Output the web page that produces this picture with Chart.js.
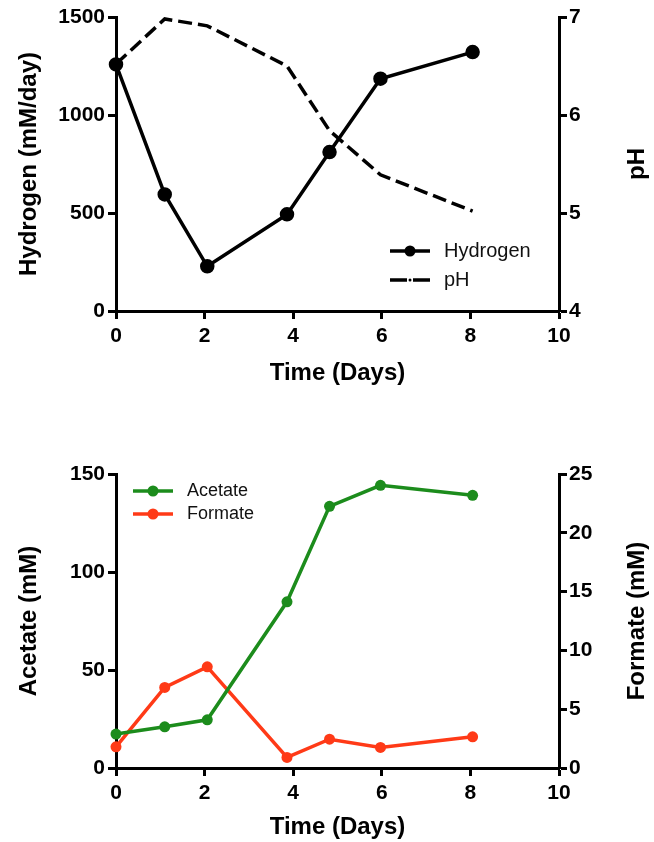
<!DOCTYPE html>
<html>
<head>
<meta charset="utf-8">
<script src="https://cdn.jsdelivr.net/npm/chart.js@4/dist/chart.umd.min.js"></script>
<style>
    html, body { margin: 0; padding: 0; background: #fff; }
    .box { position: relative; width: 654px; }
    #boxTop { height: 400px; }
    #boxBottom { height: 442px; }
</style>
</head>
<body>
<div class="box" id="boxTop"><canvas id="chartHydrogen"></canvas></div>
<div class="box" id="boxBottom"><canvas id="chartAcids"></canvas></div>
<script>
// sampling days (shared by both panels)
const days = [0, 1.1, 2.06, 3.86, 4.82, 5.97, 8.05];
const hydrogen = [1258, 595, 228, 493, 811, 1185, 1321];
const pH = [6.52, 6.98, 6.91, 6.5, 5.84, 5.39, 5.02];
const acetate = [17.3, 21, 24.6, 84.8, 133.5, 144.2, 139.1];
const formate = [1.8, 6.85, 8.6, 0.9, 2.45, 1.75, 2.65];

const FONT = "'Liberation Sans', Arial, sans-serif";
const GREEN = "#1c8c1c";
const RED = "#ff3a17";

function pts(ys) {
    return days.map(function (d, i) { return { x: d, y: ys[i] }; });
}

// right axis title (reads bottom-to-top like the left one) + legend
const panelText = {
    id: "panelText",
    afterDraw(chart, args, opts) {
        const ctx = chart.ctx;
        const area = chart.chartArea;
        ctx.save();
        ctx.fillStyle = "#000";
        ctx.font = "bold 24px " + FONT;
        ctx.textAlign = "center";
        ctx.textBaseline = "middle";
        ctx.translate(opts.titleX, (area.top + area.bottom) / 2);
        ctx.rotate(-Math.PI / 2);
        ctx.fillText(opts.rightTitle, 0, 0);
        ctx.restore();

        ctx.save();
        ctx.font = opts.legendFont + "px " + FONT;
        ctx.textBaseline = "middle";
        chart.data.datasets.forEach(function (ds, i) {
            const y = opts.legendY + i * opts.legendGap;
            const x0 = opts.legendX, x1 = opts.legendX + 40;
            ctx.strokeStyle = ds.borderColor;
            ctx.lineWidth = ds.borderWidth;
            ctx.beginPath();
            if (ds.borderDash) {
                ctx.moveTo(x0, y); ctx.lineTo(x0 + 17, y);
                ctx.moveTo(x1 - 17, y); ctx.lineTo(x1, y);
            } else {
                ctx.moveTo(x0, y); ctx.lineTo(x1, y);
            }
            ctx.stroke();
            ctx.fillStyle = ds.borderColor;
            ctx.beginPath();
            ctx.arc((x0 + x1) / 2, y, ds.pointRadius ? ds.pointRadius : 1.5, 0, Math.PI * 2);
            ctx.fill();
            ctx.fillStyle = "#111";
            ctx.fillText(ds.label, x1 + 14, y);
        });
        ctx.restore();
    }
};

function axisX(height, titlePad) {
    return {
        type: "linear",
        min: 0,
        max: 10,
        afterFit: function (s) { s.height = height; },
        ticks: { stepSize: 2, color: "#000", padding: 5, font: { family: FONT, size: 21, weight: "bold" } },
        grid: { drawOnChartArea: false, drawTicks: true, tickLength: 8, tickWidth: 3, tickColor: "#000" },
        border: { color: "#000", width: 3 },
        title: { display: true, text: "Time (Days)", color: "#000", padding: { top: 0, bottom: titlePad }, font: { family: FONT, size: 24, weight: "bold" } }
    };
}

function axisY(pos, min, max, step, title) {
    return {
        type: "linear",
        position: pos,
        min: min,
        max: max,
        afterFit: function (s) { s.width = pos === "left" ? 116 : 95; },
        ticks: {
            stepSize: step, color: "#000", padding: pos === "left" ? 3 : 2,
            font: { family: FONT, size: 21, weight: "bold" },
            callback: function (v) { return String(v); }
        },
        grid: { drawOnChartArea: false, drawTicks: true, tickLength: 8, tickWidth: 3, tickColor: "#000" },
        border: { color: "#000", width: 3 },
        title: { display: !!title, text: title, color: "#000", padding: { top: 15, bottom: 0 }, font: { family: FONT, size: 24, weight: "bold" } }
    };
}

new Chart(document.getElementById("chartHydrogen"), {
    type: "line",
    data: {
        datasets: [{
            label: "Hydrogen",
            data: pts(hydrogen),
            yAxisID: "y",
            borderColor: "#000",
            backgroundColor: "#000",
            borderWidth: 3.5,
            pointRadius: 5.5,
            pointBackgroundColor: "#000",
            tension: 0,
            clip: false
        }, {
            label: "pH",
            data: pts(pH),
            yAxisID: "y2",
            borderColor: "#000",
            borderWidth: 3.5,
            borderDash: [14, 6],
            pointRadius: 0,
            tension: 0,
            clip: false
        }]
    },
    options: {
        responsive: true,
        maintainAspectRatio: false,
        animation: false,
        layout: { padding: { top: 17, left: 0, right: 0, bottom: 0 } },
        scales: {
            x: axisX(89, 12),
            y: axisY("left", 0, 1500, 500, "Hydrogen (mM/day)"),
            y2: axisY("right", 4, 7, 1, "")
        },
        plugins: {
            legend: { display: false },
            tooltip: { enabled: false },
            panelText: { rightTitle: "pH", titleX: 637, legendX: 390, legendY: 251, legendGap: 29, legendFont: 20 }
        }
    },
    plugins: [panelText]
});

new Chart(document.getElementById("chartAcids"), {
    type: "line",
    data: {
        datasets: [{
            label: "Acetate",
            data: pts(acetate),
            yAxisID: "y",
            borderColor: GREEN,
            backgroundColor: GREEN,
            borderWidth: 3.5,
            pointRadius: 5.5,
            pointBackgroundColor: GREEN,
            pointBorderWidth: 0,
            tension: 0,
            clip: false
        }, {
            label: "Formate",
            data: pts(formate),
            yAxisID: "y2",
            borderColor: RED,
            backgroundColor: RED,
            borderWidth: 3.5,
            pointRadius: 5.5,
            pointBackgroundColor: RED,
            pointBorderWidth: 0,
            tension: 0,
            clip: false
        }]
    },
    options: {
        responsive: true,
        maintainAspectRatio: false,
        animation: false,
        layout: { padding: { top: 74, left: 0, right: 0, bottom: 0 } },
        scales: {
            x: axisX(74, 0),
            y: axisY("left", 0, 150, 50, "Acetate (mM)"),
            y2: axisY("right", 0, 25, 5, "")
        },
        plugins: {
            legend: { display: false },
            tooltip: { enabled: false },
            panelText: { rightTitle: "Formate (mM)", titleX: 637, legendX: 133, legendY: 91, legendGap: 23, legendFont: 18 }
        }
    },
    plugins: [panelText]
});
</script>
</body>
</html>
